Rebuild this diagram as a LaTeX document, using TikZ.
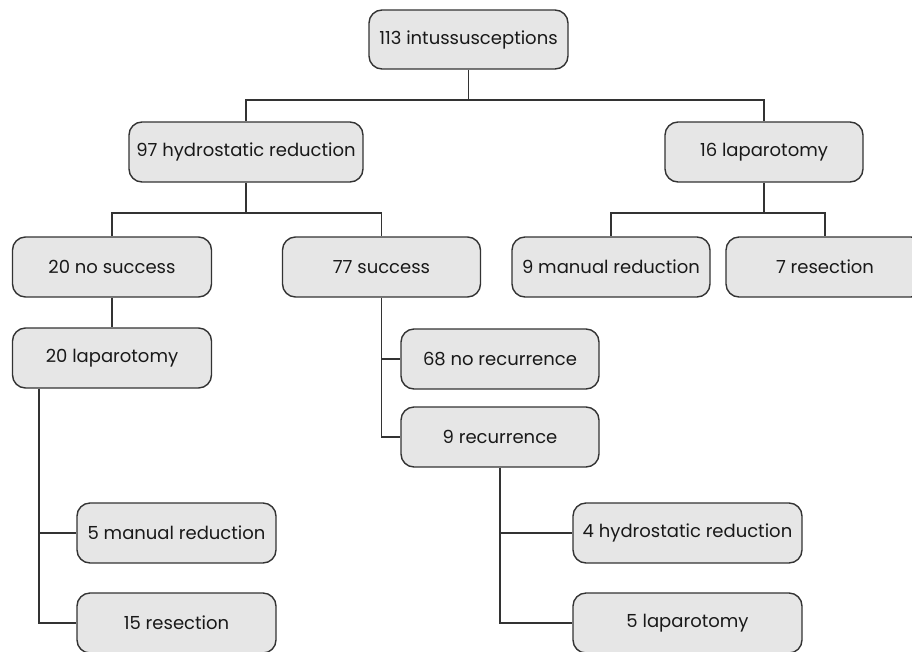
\documentclass[tikz,border=0pt]{standalone}
\usepackage{fontspec}
\setmainfont{Poppins}
\begin{document}
\begin{tikzpicture}[x=1pt,y=-1pt,
  box/.style={draw=linegray, fill=boxgray, line width=1.4pt, rounded corners=13pt,
    minimum height=60pt, inner sep=0pt, font=\fontsize{18}{21}\selectfont, text=black!90},
  link/.style={draw=linegray, line width=1.4pt}]
\definecolor{boxgray}{HTML}{E6E6E6}
\definecolor{linegray}{HTML}{333333}
\useasboundingbox (0,0) rectangle (912,651);
\clip (0,0) rectangle (912,651);
\node[box, minimum width=199pt, minimum height=59pt] (top) at (468.5,39.5) {113 intussusceptions};
\node[box, minimum width=234pt] (hr) at (246,152) {97 hydrostatic reduction};
\node[box, minimum width=198pt] (lap16) at (764,152) {16 laparotomy};
\node[box, minimum width=199pt] (ns20) at (112,267) {20 no success};
\node[box, minimum width=198pt] (s77) at (381.5,267) {77 success};
\node[box, minimum width=198pt] (mr9) at (611,267) {9 manual reduction};
\node[box, minimum width=198pt] (res7) at (825,267) {7 resection};
\node[box, minimum width=199pt] (lap20) at (112,358) {20 laparotomy};
\node[box, minimum width=198pt] (nr68) at (500,359) {68 no recurrence};
\node[box, minimum width=198pt] (rec9) at (500,437) {9 recurrence};
\node[box, minimum width=199pt] (mr5) at (176.5,533) {5 manual reduction};
\node[box, minimum width=199pt] (res15) at (176.5,623) {15 resection};
\node[box, minimum width=229pt] (hr4) at (687.5,533) {4 hydrostatic reduction};
\node[box, minimum width=229pt] (lap5) at (687.5,623) {5 laparotomy};
\coordinate (j1) at (468.5,100);
\coordinate (j2) at (246,213);
\coordinate (j3) at (764,213);
\coordinate (l20) at ([xshift=-73pt]lap20.south);
\draw[link] (top.south) -- (j1) -| (hr.north);
\draw[link] (j1) -| (lap16.north);
\draw[link] (hr.south) -- (j2) -| (ns20.north);
\draw[link] (j2) -| (s77.north);
\draw[link] (lap16.south) -- (j3) -| (mr9.north);
\draw[link] (j3) -| (res7.north);
\draw[link] (ns20.south) -- (lap20.north);
\draw[link] (s77.south) |- (nr68.west);
\draw[link] (s77.south) |- (rec9.west);
\draw[link] (l20) |- (mr5.west);
\draw[link] (l20) |- (res15.west);
\draw[link] (rec9.south) |- (hr4.west);
\draw[link] (rec9.south) |- (lap5.west);
\end{tikzpicture}
\end{document}
